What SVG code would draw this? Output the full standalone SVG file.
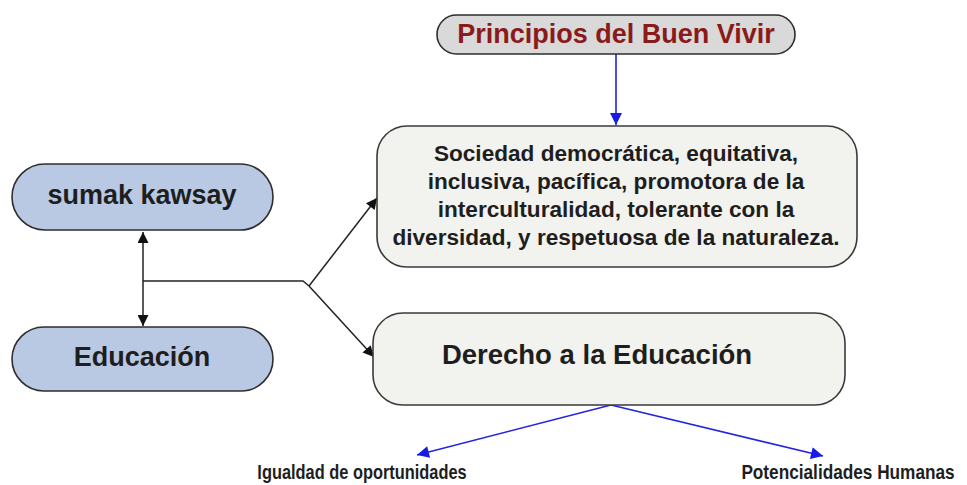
<svg xmlns="http://www.w3.org/2000/svg" width="967" height="485" viewBox="0 0 967 485">
<style>
  text { font-family: "Liberation Sans", Arial, sans-serif; font-weight: bold; text-anchor: middle; fill: #1e1e1e; }
  .blue { fill: #b9c9e3; stroke: #2e2e2e; stroke-width: 1.6; }
  .light { fill: #f2f2ee; stroke: #3a3a3a; stroke-width: 1.6; }
  .grey { fill: #d9d9d9; stroke: #2e2e2e; stroke-width: 1.6; }
  .blk { fill: none; stroke: #222; stroke-width: 1.5; }
  .bl { fill: none; stroke: #2424e0; stroke-width: 1.6; }
</style>
<defs>
  <marker id="ab" viewBox="0 0 10 10" refX="10" refY="5" markerWidth="15" markerHeight="11" markerUnits="userSpaceOnUse" orient="auto-start-reverse">
    <path d="M0,0 L10,5 L0,10 z" fill="#111"/>
  </marker>
  <marker id="ablue" viewBox="0 0 10 10" refX="10" refY="5" markerWidth="16" markerHeight="12" markerUnits="userSpaceOnUse" orient="auto">
    <path d="M0,0 L10,5 L0,10 z" fill="#1a1ae6"/>
  </marker>
</defs>
<rect width="967" height="485" fill="#ffffff"/>

<g id="connectors">
  <line class="bl" x1="616" y1="54" x2="616" y2="125" marker-end="url(#ablue)"/>
  <line class="blk" x1="143" y1="232" x2="143" y2="326" marker-start="url(#ab)" marker-end="url(#ab)"/>
  <polyline class="blk" points="143,281 303,281 309,286"/>
  <line class="blk" x1="309" y1="286" x2="377" y2="198" marker-end="url(#ab)"/>
  <line class="blk" x1="309" y1="286" x2="374" y2="357" marker-end="url(#ab)"/>
  <line class="bl" x1="611" y1="405" x2="417" y2="455" marker-end="url(#ablue)"/>
  <line class="bl" x1="611" y1="405" x2="823" y2="456" marker-end="url(#ablue)"/>
</g>

<g id="principios">
  <rect class="grey" x="437" y="15" width="358" height="39" rx="19.5"/>
  <text x="616" y="43" font-size="27" style="fill:#8b1a1a">Principios del Buen Vivir</text>
</g>

<g id="sumak">
  <rect class="blue" x="12" y="164" width="261" height="66" rx="33"/>
  <text x="142" y="204" font-size="27">sumak kawsay</text>
</g>

<g id="educacion">
  <rect class="blue" x="12" y="327" width="261" height="64" rx="32"/>
  <text x="142" y="366" font-size="27">Educación</text>
</g>

<g id="sociedad">
  <rect class="light" x="377" y="126" width="480" height="141" rx="30"/>
  <text x="616" y="161" font-size="22.6">Sociedad democrática, equitativa,</text>
  <text x="616" y="189" font-size="22.6">inclusiva, pacífica, promotora de la</text>
  <text x="616" y="217" font-size="22.6">interculturalidad, tolerante con la</text>
  <text x="616" y="245" font-size="22.6">diversidad, y respetuosa de la naturaleza.</text>
</g>

<g id="derecho">
  <rect class="light" x="373" y="313" width="472" height="92" rx="30"/>
  <text x="597" y="364" font-size="27.5">Derecho a la Educación</text>
</g>

<g id="igualdad">
  <text transform="translate(362,479) scale(0.78,1)" font-size="21">Igualdad de oportunidades</text>
</g>

<g id="potencialidades">
  <text transform="translate(848,479) scale(0.82,1)" font-size="21">Potencialidades Humanas</text>
</g>
</svg>
